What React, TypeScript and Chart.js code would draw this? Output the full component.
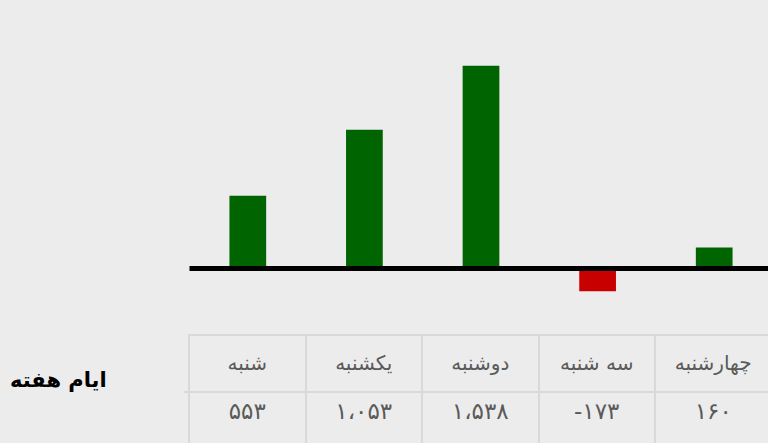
import React, { useEffect, useRef } from "react";
import { Chart, registerables } from "chart.js";

Chart.register(...registerables);

const days = ["شنبه", "یکشنبه", "دوشنبه", "سه شنبه", "چهارشنبه"];
const values = [553, 1053, 1538, -173, 160];
const rowLabel = "ایام هفته";

const GREEN = "#006400";
const RED = "#c80000";
const BG = "#ececec";
const GRID = "#d9d9d9";

const faDigits = "۰۱۲۳۴۵۶۷۸۹";
function toFa(n: number): string {
  const neg = n < 0;
  const s = Math.abs(n)
    .toString()
    .replace(/\B(?=(\d{3})+(?!\d))/g, ",");
  const out = s.replace(/\d/g, (d) => faDigits[+d]).replace(/,/g, "،");
  return (neg ? "-" : "") + out;
}

const zeroLine = {
  id: "zeroLine",
  afterDatasetsDraw(chart: any) {
    const { ctx, chartArea, scales } = chart;
    const y = scales.y.getPixelForValue(0);
    ctx.save();
    ctx.strokeStyle = "#000";
    ctx.lineWidth = 5;
    ctx.beginPath();
    ctx.moveTo(chartArea.left, y);
    ctx.lineTo(chartArea.right, y);
    ctx.stroke();
    ctx.restore();
  },
};

export default function App() {
  const ref = useRef<HTMLCanvasElement>(null);
  useEffect(() => {
    const chart = new Chart(ref.current!, {
      type: "bar",
      data: {
        labels: days,
        datasets: [
          {
            data: values,
            backgroundColor: values.map((v) => (v < 0 ? RED : GREEN)),
            borderWidth: 0,
            categoryPercentage: 1,
            barPercentage: 0.315,
          },
        ],
      },
      options: {
        animation: false,
        responsive: false,
        layout: { padding: { left: 189.5, right: 7.5, top: 31.2, bottom: 8.7 } },
        plugins: { legend: { display: false }, tooltip: { enabled: false }, title: { display: false } },
        scales: {
          x: { display: false },
          y: { display: false, min: -400, max: 1800 },
        },
      },
      plugins: [zeroLine],
    });
    return () => chart.destroy();
  }, []);

  const cellBase: React.CSSProperties = {
    width: 116.5,
    boxSizing: "border-box",
    borderRight: `2px solid ${GRID}`,
    borderBottom: `2px solid ${GRID}`,
    textAlign: "center",
    color: "#5a5a5a",
    fontFamily: "'DejaVu Sans', sans-serif",
    flex: "0 0 auto",
  };

  return (
    <div
      style={{
        position: "fixed",
        left: 0,
        top: 0,
        width: 768,
        height: 443,
        overflow: "hidden",
        background: BG,
      }}
    >
      <canvas ref={ref} width={780} height={330} style={{ position: "absolute", left: 0, top: 0 }} />
      <div
        style={{
          position: "absolute",
          left: 188,
          top: 334,
          borderTop: `2px solid ${GRID}`,
          borderLeft: `2px solid ${GRID}`,
          width: 600,
        }}
      >
        <div style={{ display: "flex" }}>
          {days.map((d, i) => (
            <div key={i} dir="rtl" style={{ ...cellBase, height: 57, lineHeight: "55px", fontSize: 20 }}>
              {d}
            </div>
          ))}
        </div>
        <div style={{ display: "flex" }}>
          {values.map((v, i) => (
            <div key={i} dir="ltr" style={{ ...cellBase, height: 60, lineHeight: "37px", fontSize: 23 }}>
              {toFa(v)}
            </div>
          ))}
        </div>
      </div>
      <div
        style={{
          position: "absolute",
          left: 184,
          top: 391,
          width: 6,
          height: 2,
          background: GRID,
        }}
      />
      <div
        dir="rtl"
        style={{
          position: "absolute",
          left: 10,
          top: 368,
          width: 110,
          textAlign: "left",
          fontFamily: "'DejaVu Sans', sans-serif",
          fontWeight: "bold",
          fontSize: 21,
          color: "#000",
        }}
      >
        {rowLabel}
      </div>
    </div>
  );
}
